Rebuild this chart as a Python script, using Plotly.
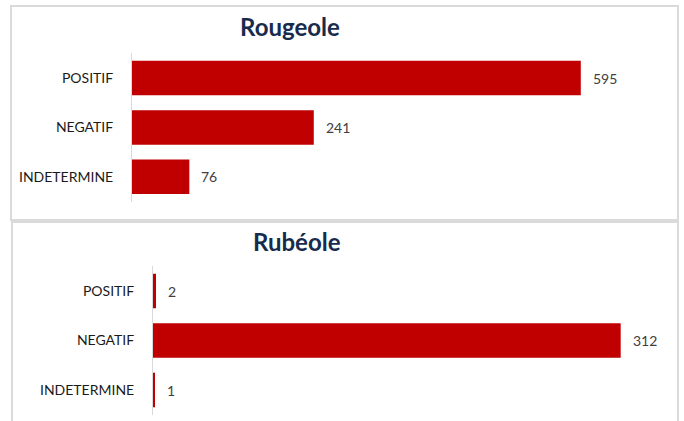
import plotly.graph_objects as go

categories = ["POSITIF", "NEGATIF", "INDETERMINE"]
rougeole_values = [595, 241, 76]
rubeole_values = [2, 312, 1]
titles = ["Rougeole", "Rubéole"]

W, H = 684, 421
BAR = "#C00000"
FONT = "Lato"

def px(x):
    return x / W

def py(y):
    return 1 - y / H

fig = go.Figure()
fig.add_trace(go.Bar(x=rougeole_values, y=categories, orientation="h",
                     marker=dict(color=BAR, line=dict(width=0)), width=0.7,
                     xaxis="x", yaxis="y", hoverinfo="x+y"))
fig.add_trace(go.Bar(x=rubeole_values, y=categories, orientation="h",
                     marker=dict(color=BAR, line=dict(width=0)), width=0.7,
                     xaxis="x2", yaxis="y2", hoverinfo="x+y"))

annotations = []
for xa, ya, vals in (("x", "y", rougeole_values), ("x2", "y2", rubeole_values)):
    for c, v in zip(categories, vals):
        annotations.append(dict(x=v, y=c, xref=xa, yref=ya, text=str(v),
                                showarrow=False, xanchor="left", yanchor="middle",
                                xshift=10, font=dict(family=FONT, size=14, color="#404040")))

annotations.append(dict(x=px(290), y=py(27), xref="paper", yref="paper", text="<b>%s</b>" % titles[0],
                        showarrow=False, xanchor="center", yanchor="middle",
                        font=dict(family=FONT, size=24, color="#172B4D")))
annotations.append(dict(x=px(297), y=py(241), xref="paper", yref="paper", text="<b>%s</b>" % titles[1],
                        showarrow=False, xanchor="center", yanchor="middle",
                        font=dict(family=FONT, size=24, color="#172B4D")))

axis_common_x = dict(showgrid=False, zeroline=False, showticklabels=False, showline=False, fixedrange=True)
axis_common_y = dict(showgrid=False, zeroline=False, showline=True, linecolor="#D9D9D9", linewidth=1,
                     type="category", categoryarray=categories, ticks="",
                     ticklabelstandoff=15,
                     tickfont=dict(family=FONT, size=14, color="#1a1a1a"), fixedrange=True)

fig.update_layout(
    width=W, height=H,
    margin=dict(l=0, r=0, t=0, b=0),
    paper_bgcolor="white", plot_bgcolor="white",
    showlegend=False,
    xaxis=dict(domain=[px(132), px(660)], range=[0, 700], anchor="y", **axis_common_x),
    yaxis=dict(domain=[py(201.5), py(53.4)], range=[2.5, -0.5], anchor="x", **axis_common_y),
    xaxis2=dict(domain=[px(153), px(153 + 340 * 1.499)], range=[0, 340], anchor="y2", **axis_common_x),
    yaxis2=dict(domain=[py(414.8), py(266.3)], range=[2.5, -0.5], anchor="x2", **axis_common_y),
    annotations=annotations,
    shapes=[
        dict(type="rect", xref="paper", yref="paper", x0=px(11), x1=px(678), y0=py(220), y1=py(6),
             line=dict(color="#DADADA", width=2), fillcolor="rgba(0,0,0,0)", layer="above"),
        dict(type="rect", xref="paper", yref="paper", x0=px(12), x1=px(678), y0=py(440), y1=py(222),
             line=dict(color="#DADADA", width=2), fillcolor="rgba(0,0,0,0)", layer="above"),
    ],
)

fig.write_html(
    "out.html",
    config={"displayModeBar": False},
    post_script="document.body.style.margin='0';document.body.style.overflow='hidden';",
)
